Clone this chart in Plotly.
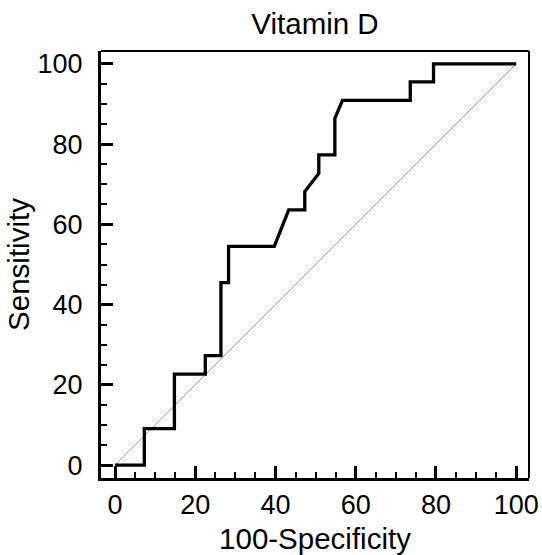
import plotly.graph_objects as go

# ROC curve points (100-Specificity, Sensitivity)
fpr = [0, 7.3, 7.3, 14.8, 14.8, 22.5, 22.5, 26.4, 26.4, 28.3, 28.3, 39.7, 43.3,
       47.3, 47.3, 50.8, 50.8, 54.8, 54.8, 56.7, 73.6, 73.6, 79.4, 79.4, 100]
sens = [0, 0, 9.1, 9.1, 22.7, 22.7, 27.3, 27.3, 45.5, 45.5, 54.5, 54.5, 63.6,
        63.6, 68.2, 72.7, 77.3, 77.3, 86.4, 90.9, 90.9, 95.5, 95.5, 100, 100]
diag_x = [0, 100]
diag_y = [0, 100]
tick_vals = [0, 20, 40, 60, 80, 100]
tick_text = ["0", "20", "40", "60", "80", "100"]

FONT = "Liberation Sans, Arial, sans-serif"

fig = go.Figure()
fig.add_trace(go.Scatter(x=diag_x, y=diag_y, mode="lines",
                         line=dict(color="#9a9a9a", width=1), hoverinfo="skip"))
fig.add_trace(go.Scatter(x=fpr, y=sens, mode="lines",
                         line=dict(color="black", width=3.3)))

axis_common = dict(
    showgrid=False, zeroline=False, showline=True, linecolor="black", linewidth=3,
    ticks="inside", ticklen=12, tickwidth=2.5, tickcolor="black",
    tickvals=tick_vals, ticktext=tick_text,
    tickfont=dict(family=FONT, size=27, color="black"),
    minor=dict(dtick=5, tick0=0, ticks="inside", ticklen=6, tickwidth=2, tickcolor="black"),
)

fig.update_layout(
    width=542, height=555,
    margin=dict(l=101, r=13, t=51, b=77, autoexpand=False),
    paper_bgcolor="white", plot_bgcolor="white",
    showlegend=False,
    title=dict(text="Vitamin D", x=(101 + 529) / 2 / 542, xanchor="center",
               y=1 - 24 / 555, yanchor="middle", yref="container",
               font=dict(family=FONT, size=29.5, color="black")),
    xaxis=dict(range=[-3.5, 103.2], ticklabelstandoff=1,
               title=dict(text="100-Specificity", standoff=14,
                          font=dict(family=FONT, size=29.5, color="black")),
               **axis_common),
    yaxis=dict(range=[-3.2, 103.2], ticklabelstandoff=10,
               title=dict(text="Sensitivity", standoff=0,
                          font=dict(family=FONT, size=29.5, color="black")),
               **axis_common),
    shapes=[
        dict(type="line", xref="paper", yref="paper", x0=0, x1=1, y0=1, y1=1,
             line=dict(color="black", width=2)),
        dict(type="line", xref="paper", yref="paper", x0=1, x1=1, y0=0, y1=1,
             line=dict(color="black", width=2)),
    ],
)

fig.write_html("out.html", config={"displayModeBar": False},
               post_script="document.body.style.margin='0';document.body.style.padding='0';")
